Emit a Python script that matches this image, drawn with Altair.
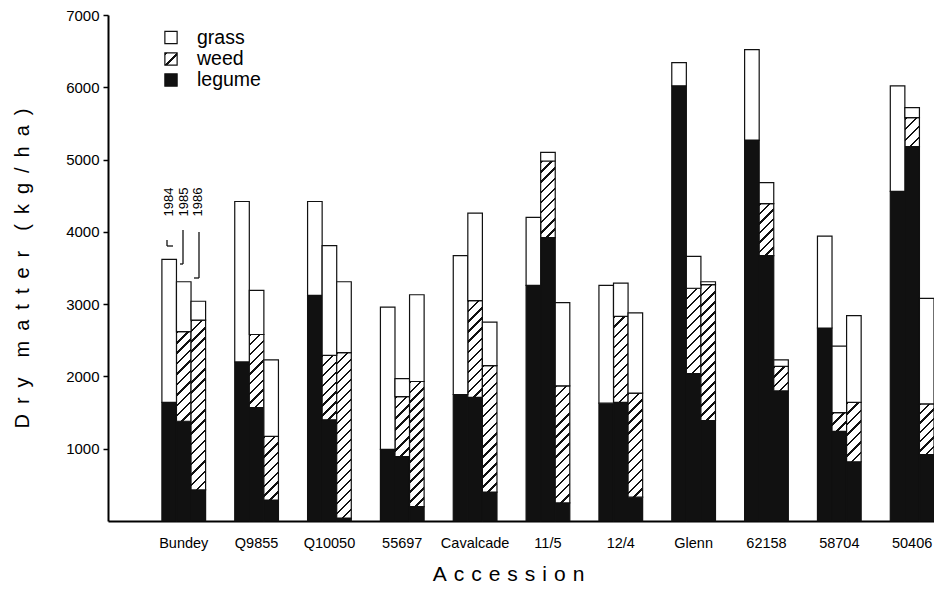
import altair as alt
import pandas as pd

# ---------------- data (kg/ha) ----------------
accessions = ["Bundey", "Q9855", "Q10050", "55697", "Cavalcade", "11/5",
              "12/4", "Glenn", "62158", "58704", "50406"]
years = ["1984", "1985", "1986"]

legume_1984 = [1640, 2200, 3120, 990, 1750, 3260, 1630, 6020, 5270, 2670, 4560]
weed_1984 = [0, 0, 0, 0, 0, 0, 0, 0, 0, 0, 0]
grass_1984 = [1980, 2220, 1300, 1970, 1920, 940, 1630, 320, 1250, 1270, 1460]

legume_1985 = [1380, 1570, 1400, 890, 1710, 3920, 1640, 2040, 3670, 1240, 5180]
weed_1985 = [1240, 1010, 890, 830, 1340, 1060, 1190, 1180, 720, 260, 400]
grass_1985 = [690, 610, 1520, 250, 1210, 120, 460, 440, 290, 920, 140]

legume_1986 = [430, 290, 40, 200, 400, 250, 330, 1390, 1800, 820, 920]
weed_1986 = [2350, 880, 2290, 1730, 1750, 1620, 1440, 1880, 340, 820, 700]
grass_1986 = [260, 1060, 980, 1200, 600, 1150, 1110, 40, 90, 1200, 1460]

y_ticks = [1000, 2000, 3000, 4000, 5000, 6000, 7000]
legend_labels = ["grass", "weed", "legume"]

# ---------------- layout constants ----------------
W, H = 826, 506
YMAX = 7000
P_IN, P_OUT = 0.4, 0.37
STEP = W / (len(accessions) - P_IN + 2 * P_OUT)
BAR_W = STEP * (1 - P_IN) / len(years)
FONT = "Liberation Sans"
INK = "#111111"

by_year = {
    "1984": (legume_1984, weed_1984, grass_1984),
    "1985": (legume_1985, weed_1985, grass_1985),
    "1986": (legume_1986, weed_1986, grass_1986),
}
rows = []
for yr in years:
    leg, wd, gr = by_year[yr]
    for i, acc in enumerate(accessions):
        a = leg[i]
        b = a + wd[i]
        c = b + gr[i]
        rows.append({"accession": acc, "year": yr, "component": "legume", "lo": 0, "hi": a})
        rows.append({"accession": acc, "year": yr, "component": "weed", "lo": a, "hi": b})
        rows.append({"accession": acc, "year": yr, "component": "grass", "lo": b, "hi": c})
df = pd.DataFrame(rows)
df = df[df["hi"] > df["lo"]]


def spaced(text, letter, word):
    return word.join(letter.join(w) for w in text.split(" "))


def hatch(w_px, h_px, gap=10.0, frac=0.24):
    n = max(1, round((w_px + h_px) / gap))
    s = (w_px + h_px) / (w_px ** 2 + h_px ** 2)
    stops = []
    for k in range(n):
        a = k / n
        b = (k + frac) / n
        c = (k + 1) / n
        stops += [
            {"offset": a, "color": INK},
            {"offset": b, "color": INK},
            {"offset": b, "color": "white"},
            {"offset": c, "color": "white"},
        ]
    return {"gradient": "linear", "x1": 0, "y1": 0,
            "x2": w_px * s, "y2": h_px * s, "stops": stops}


x_axis = alt.Axis(
    labelAngle=0, labelFont=FONT, labelFontSize=14.5, labelColor="black",
    ticks=False, tickSize=0, labelPadding=15,
    domainColor="black", domainWidth=2, grid=False,
    titleFont=FONT, titleFontSize=21, titleFontWeight="normal", titleColor="black",
    titleX=400, titleY=53, titleBaseline="middle", titleAlign="center",
)
y_axis = alt.Axis(
    values=y_ticks, format="d", labelFont=FONT, labelFontSize=15, labelColor="black",
    labelPadding=4, tickSize=5, tickColor="black", tickWidth=1.5,
    domainColor="black", domainWidth=2, grid=False,
    titleFont=FONT, titleFontSize=20, titleFontWeight="normal", titleColor="black",
    titleAngle=270, titleX=-86, titleY=H / 2, titleAlign="center", titleBaseline="middle",
)

x_enc = alt.X("accession:N", sort=accessions,
              scale=alt.Scale(domain=accessions, paddingInner=P_IN, paddingOuter=P_OUT, align=1),
              axis=x_axis, title=spaced("Accession", "\u2004", "\u2004\u2004"))
xo_enc = alt.XOffset("year:N", sort=years,
                     scale=alt.Scale(domain=years, paddingInner=0, paddingOuter=0))
y_enc = alt.Y("lo:Q", scale=alt.Scale(domain=[0, YMAX], nice=False, zero=True),
              axis=y_axis, title=spaced("Dry matter (kg/ha)", "\u2002", "\u2002\u2002"))
y2_enc = alt.Y2("hi:Q")

layers = []
layers.append(
    alt.Chart(df[df["component"] == "legume"]).mark_bar(
        fill=INK, stroke=INK, strokeWidth=1.2
    ).encode(x=x_enc, xOffset=xo_enc, y=y_enc, y2=y2_enc)
)
for _, r in df[df["component"] == "weed"].iterrows():
    h_px = (r["hi"] - r["lo"]) / YMAX * H
    layers.append(
        alt.Chart(pd.DataFrame([r.to_dict()])).mark_bar(
            fill=hatch(BAR_W, h_px), stroke=INK, strokeWidth=1.2
        ).encode(x=x_enc, xOffset=xo_enc, y=y_enc, y2=y2_enc)
    )
layers.append(
    alt.Chart(df[df["component"] == "grass"]).mark_bar(
        fill="white", stroke=INK, strokeWidth=1.2
    ).encode(x=x_enc, xOffset=xo_enc, y=y_enc, y2=y2_enc)
)

# year annotations over the Bundey bars
yr_df = pd.DataFrame({"accession": ["Bundey"] * 3, "year": years})
layers.append(
    alt.Chart(yr_df).mark_text(angle=270, font=FONT, fontSize=13, color="black",
                               align="center", baseline="middle").encode(
        x=x_enc, xOffset=xo_enc, y=alt.value(187), text="year:N")
)
one = pd.DataFrame({"k": [0]})
leaders = [
    (59, 59, 225, 231), (59, 65, 231, 231),
    (75, 75, 215, 249), (72, 75, 249, 249),
    (91, 91, 217, 263), (86, 91, 263, 263),
]
for x1, x2, y1, y2 in leaders:
    layers.append(
        alt.Chart(one).mark_rule(color=INK, strokeWidth=1.3).encode(
            x=alt.value(x1), x2=alt.value(x2), y=alt.value(y1), y2=alt.value(y2))
    )

# legend
leg_fills = {"grass": "white", "weed": hatch(12, 12, gap=11, frac=0.2), "legume": INK}
leg_y = {"grass": 22.5, "weed": 44, "legume": 65}
for lab in legend_labels:
    layers.append(
        alt.Chart(one).mark_square(size=150, fill=leg_fills[lab], stroke=INK,
                                   strokeWidth=1.2, opacity=1).encode(
            x=alt.value(63), y=alt.value(leg_y[lab]))
    )
    layers.append(
        alt.Chart(pd.DataFrame({"label": [lab]})).mark_text(
            font=FONT, fontSize=19.5, color="black", align="left", baseline="middle").encode(
            x=alt.value(89), y=alt.value(leg_y[lab]), text="label:N")
    )

chart = alt.layer(*layers).properties(
    width=W, height=H,
    autosize=alt.AutoSizeParams(type="none"),
    padding={"left": 100, "top": 7, "right": 0, "bottom": 62},
    background="white",
).configure_view(strokeWidth=0)

chart.save("out.html", embed_options={"renderer": "svg", "actions": False})
